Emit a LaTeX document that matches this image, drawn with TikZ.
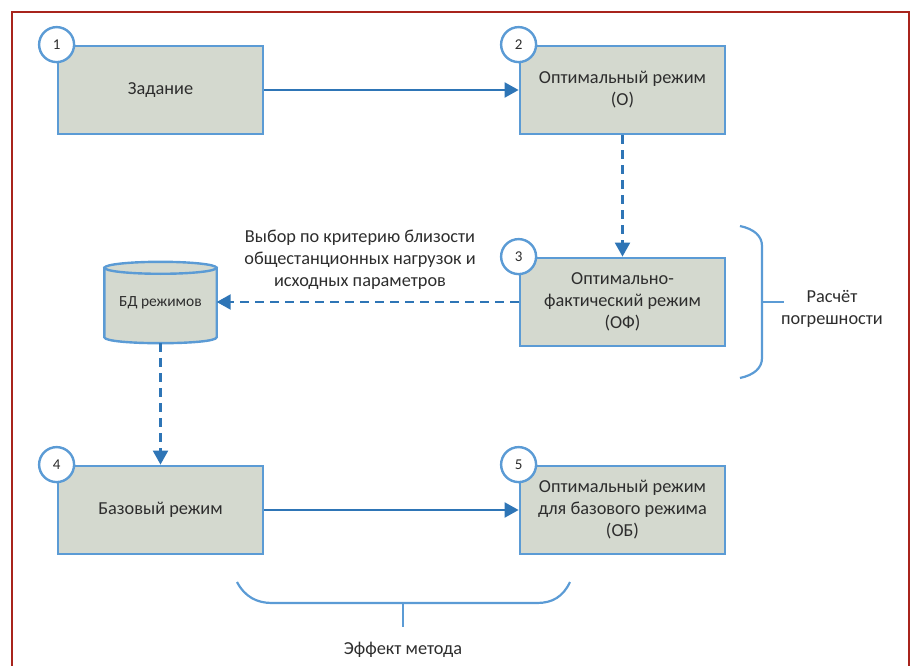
\documentclass[tikz,border=0pt]{standalone}
\usepackage{fontspec}
\setmainfont{Carlito}
\usetikzlibrary{positioning, arrows.meta, calc, backgrounds}
\definecolor{cB}{RGB}{91,155,213}
\definecolor{cA}{RGB}{46,117,182}
\definecolor{cF}{RGB}{212,217,207}
\definecolor{cR}{RGB}{168,36,28}
\definecolor{cT}{RGB}{45,45,45}
\tikzset{
    stepbox/.style={draw=cB, line width=2.8pt, fill=cF, minimum width=205pt, minimum height=88pt, align=center, text=cT, font=\fontsize{18.3}{22}\selectfont},
    numcirc/.style={circle, draw=cB, line width=2.4pt, fill=white, minimum size=35pt, inner sep=0pt, text=cT, font=\fontsize{15}{16}\selectfont},
    conn/.style={draw=cA, line width=2.2pt, -{Triangle[length=14pt,width=15pt]}},
    dashconn/.style={conn, dash pattern=on 9pt off 6pt},
    brace/.style={draw=cB, line width=2.2pt},
    lbl/.style={text=cT, align=center, font=\fontsize{18.3}{22}\selectfont}
}

\begin{document}
\begin{tikzpicture}[x=1pt, y=-1pt]
    \clip (0,0) rectangle (911,666);

    % Outer frame
    \draw[cR, line width=2.8pt] (12,12) rectangle (909,700);

    % Mode blocks
    \node[stepbox] (task) at (160.5,90) {Задание};
    \node[stepbox] (opt) at (622.5,90) {Оптимальный режим\\(О)};
    \node[stepbox] (optf) at (622.5,302) {Оптимально-\\фактический режим\\(ОФ)};
    \node[stepbox] (base) at (160.5,510) {Базовый режим};
    \node[stepbox] (optb) at (622.5,510) {Оптимальный режим\\для базового режима\\(ОБ)};

    % Numbers on the corners
    \node[numcirc] (n1) at (task.north west) {1};
    \node[numcirc] (n2) at (opt.north west) {2};
    \node[numcirc] (n3) at (optf.north west) {3};
    \node[numcirc] (n4) at (base.north west) {4};
    \node[numcirc] (n5) at (optb.north west) {5};

    % Database cylinder
    \node[lbl, font=\fontsize{15.5}{18}\selectfont, minimum width=112pt, minimum height=81pt, inner sep=0pt] (db) at (160.5,302.5) {БД режимов};
    \begin{scope}[on background layer]
        \filldraw[draw=cB, line width=2.4pt, fill=cF] ($(db.north west)+(0,6)$) -- ($(db.south west)+(0,-6)$)
            .. controls ($(db.south west)+(0,2)$) and ($(db.south east)+(0,2)$) .. ($(db.south east)+(0,-6)$)
            -- ($(db.north east)+(0,6)$) -- cycle;
        \filldraw[draw=cB, line width=2.4pt, fill=cF] ($(db.north)+(0,6)$) ellipse [x radius=56pt, y radius=6pt];
    \end{scope}

    % Connections
    \draw[conn] (task) -- (opt);
    \draw[dashconn] (opt) -- (optf);
    \draw[dashconn] (optf.west) -- (optf.west -| db.east);
    \draw[dashconn] (db.south) -- (db.south |- base.north);
    \draw[conn] (base) -- (optb);

    % Selection label
    \node[lbl] (sel) at (360,260) {Выбор по критерию близости\\общестанционных нагрузок и\\исходных параметров};

    % Error bracket
    \draw[brace] (740,226) .. controls (754,229) and (762,236) .. (762,246) -- (762,358)
        .. controls (762,368) and (754,375) .. (740,378);
    \draw[brace] (762,302) -- (784,302);
    \node[lbl] (err) at (832,309) {Расчёт\\погрешности};

    % Effect bracket
    \draw[brace] (237,582) .. controls (245,597) and (257,603) .. (272,603) -- (537,603)
        .. controls (552,603) and (563,597) .. (570,582);
    \draw[brace] (403,603) -- (403,627);
    \node[lbl] (eff) at (403,650) {Эффект метода};
\end{tikzpicture}
\end{document}
